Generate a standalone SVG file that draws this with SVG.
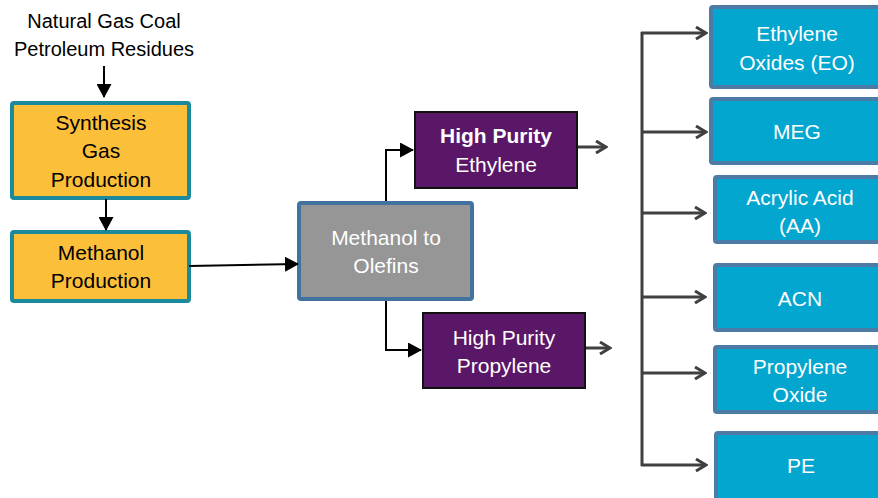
<svg xmlns="http://www.w3.org/2000/svg" width="878" height="498" viewBox="0 0 878 498">
<style>
text{font-family:"Liberation Sans","Noto Sans",Arial,sans-serif;font-size:21px;text-anchor:middle}
#source text{font-size:20px}
.dark{fill:#000}
.w{fill:#fff}
.b{font-weight:bold}
.yel{fill:#FCBF3A;stroke:#1A8A9C;stroke-width:4}
.gray{fill:#969696;stroke:#44729E;stroke-width:4}
.pur{fill:#5A1767;stroke:#111;stroke-width:2}
.blu{fill:#03A6CE;stroke:#4C7BA5;stroke-width:4}
.k{stroke:#000;stroke-width:2;fill:none}
.g{stroke:#404040;stroke-width:3;fill:none}
</style>
<defs>
<marker id="ah" markerWidth="14" markerHeight="15" refX="13" refY="7.5" orient="auto" markerUnits="userSpaceOnUse">
<path d="M0,0 L14,7.5 L0,15 Z" fill="#000"/>
</marker>
<marker id="gh" markerWidth="14" markerHeight="14" refX="12" refY="7" orient="auto" markerUnits="userSpaceOnUse">
<path d="M2,1 L12,7 L2,13" fill="none" stroke="#404040" stroke-width="3"/>
</marker>
</defs>
<g id="source">
<text class="dark" x="104" y="28">Natural Gas Coal</text>
<text class="dark" x="104" y="56">Petroleum Residues</text>
</g>
<g id="syngas">
<rect class="yel" x="12" y="103" width="177" height="95" rx="2"/>
<text class="dark" x="101" y="130">Synthesis</text>
<text class="dark" x="101" y="158">Gas</text>
<text class="dark" x="101" y="187">Production</text>
</g>
<g id="methanol">
<rect class="yel" x="12" y="232" width="177" height="69" rx="2"/>
<text class="dark" x="101" y="260">Methanol</text>
<text class="dark" x="101" y="288">Production</text>
</g>
<g id="mto">
<rect class="gray" x="299" y="203" width="173" height="96" rx="2"/>
<text class="w" x="386" y="245">Methanol to</text>
<text class="w" x="386" y="273">Olefins</text>
</g>
<g id="ethylene">
<rect class="pur" x="415" y="112" width="162" height="76"/>
<text class="w b" x="496" y="143">High Purity</text>
<text class="w" x="496" y="172">Ethylene</text>
</g>
<g id="propylene">
<rect class="pur" x="423" y="313" width="162" height="75"/>
<text class="w" x="504" y="345">High Purity</text>
<text class="w" x="504" y="373">Propylene</text>
</g>
<g id="eo">
<rect class="blu" x="711" y="7" width="180" height="80" rx="2"/>
<text class="w" x="797" y="41">Ethylene</text>
<text class="w" x="797" y="70">Oxides (EO)</text>
</g>
<g id="meg">
<rect class="blu" x="711" y="99" width="180" height="64" rx="2"/>
<text class="w" x="797" y="139">MEG</text>
</g>
<g id="aa">
<rect class="blu" x="715" y="177" width="176" height="65" rx="2"/>
<text class="w" x="800" y="205">Acrylic Acid</text>
<text class="w" x="800" y="233">(AA)</text>
</g>
<g id="acn">
<rect class="blu" x="715" y="265" width="176" height="65" rx="2"/>
<text class="w" x="800" y="306">ACN</text>
</g>
<g id="po">
<rect class="blu" x="715" y="347" width="176" height="65" rx="2"/>
<text class="w" x="800" y="374">Propylene</text>
<text class="w" x="800" y="402">Oxide</text>
</g>
<g id="pe">
<rect class="blu" x="716" y="433" width="176" height="80" rx="2"/>
<text class="w" x="801" y="473">PE</text>
</g>
<g id="connectors">
<line class="k" x1="104" y1="66" x2="104" y2="97" marker-end="url(#ah)"/>
<line class="k" x1="106" y1="199" x2="106" y2="230" marker-end="url(#ah)"/>
<line class="k" x1="189" y1="266" x2="298" y2="264" marker-end="url(#ah)"/>
<polyline class="k" points="386,201 386,150 413,150" marker-end="url(#ah)"/>
<polyline class="k" points="386,301 386,350 421,350" marker-end="url(#ah)"/>
<line class="g" x1="578" y1="147" x2="606" y2="147" marker-end="url(#gh)"/>
<line class="g" x1="586" y1="348" x2="610" y2="348" marker-end="url(#gh)"/>
<line class="g" x1="642" y1="32" x2="642" y2="466"/>
<line class="g" x1="641" y1="33" x2="706" y2="33" marker-end="url(#gh)"/>
<line class="g" x1="641" y1="132" x2="706" y2="132" marker-end="url(#gh)"/>
<line class="g" x1="641" y1="213" x2="705" y2="213" marker-end="url(#gh)"/>
<line class="g" x1="641" y1="297" x2="705" y2="297" marker-end="url(#gh)"/>
<line class="g" x1="641" y1="373" x2="705" y2="373" marker-end="url(#gh)"/>
<line class="g" x1="641" y1="465" x2="706" y2="465" marker-end="url(#gh)"/>
</g>
</svg>
